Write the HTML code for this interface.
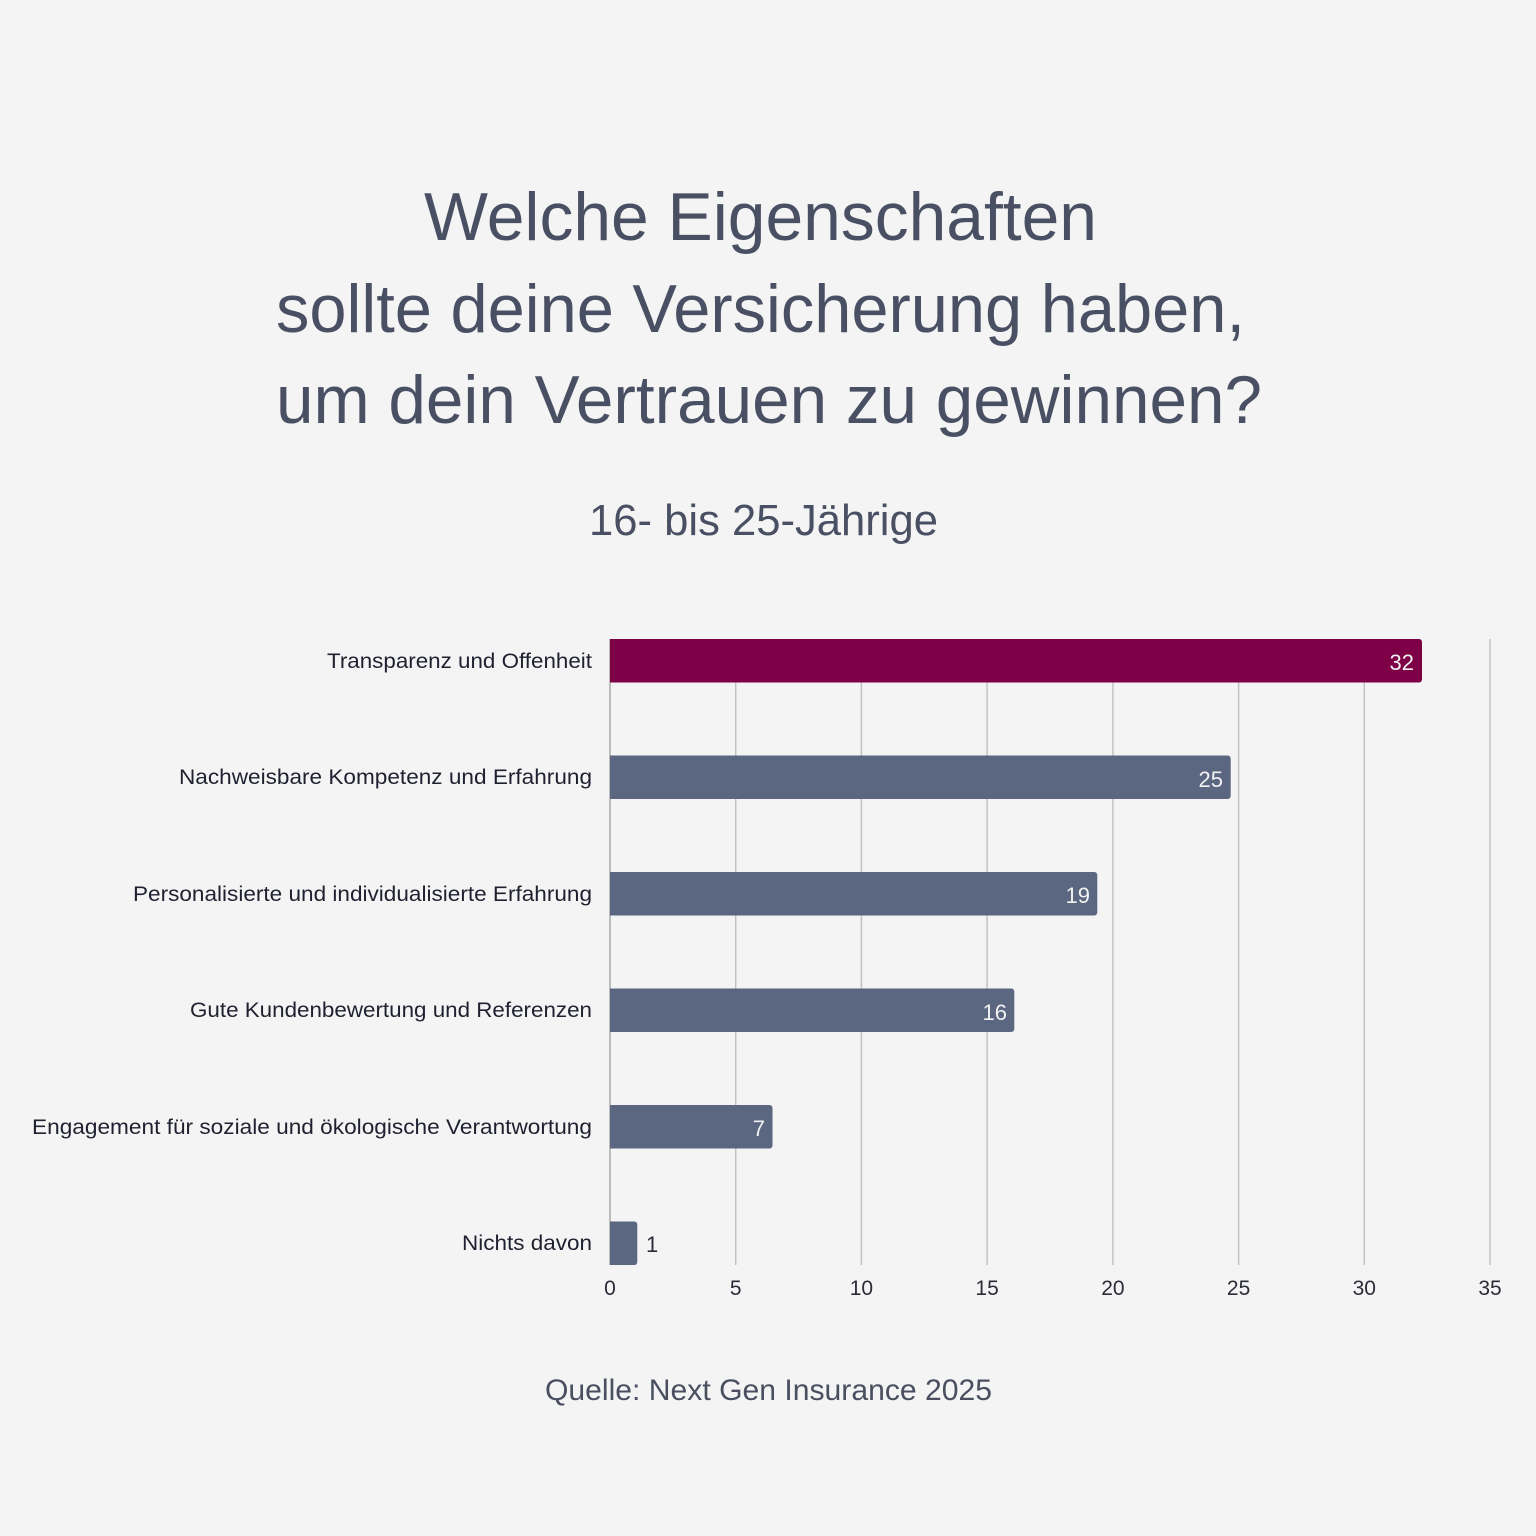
<!DOCTYPE html>
<html>
<head>
<meta charset="utf-8">
<style>
  html, body { margin:0; padding:0; background:#f4f4f4; }
  svg { display:block; }
  text { font-family: "Liberation Sans", "DejaVu Sans", sans-serif; }
</style>
</head>
<body>
<svg width="1536" height="1536" viewBox="0 0 1536 1536" xmlns="http://www.w3.org/2000/svg">
  <rect x="0" y="0" width="1536" height="1536" fill="#f4f4f4"/>

  <!-- Title -->
  <g fill="#4a5063" font-size="68">
    <text x="424" y="240" textLength="673" lengthAdjust="spacingAndGlyphs">Welche Eigenschaften</text>
    <text x="276" y="332" textLength="969" lengthAdjust="spacingAndGlyphs">sollte deine Versicherung haben,</text>
    <text x="276" y="423" textLength="986" lengthAdjust="spacingAndGlyphs">um dein Vertrauen zu gewinnen?</text>
  </g>
  <text x="589" y="535" font-size="44" fill="#4a5063" textLength="349" lengthAdjust="spacingAndGlyphs">16- bis 25-Jährige</text>

  <!-- Gridlines -->
  <g stroke="#c2c2c2" stroke-width="1.5">
    <line x1="735.7" y1="639" x2="735.7" y2="1265"/>
    <line x1="861.4" y1="639" x2="861.4" y2="1265"/>
    <line x1="987.1" y1="639" x2="987.1" y2="1265"/>
    <line x1="1112.9" y1="639" x2="1112.9" y2="1265"/>
    <line x1="1238.6" y1="639" x2="1238.6" y2="1265"/>
    <line x1="1364.3" y1="639" x2="1364.3" y2="1265"/>
    <line x1="1490" y1="639" x2="1490" y2="1265"/>
  </g>
  <line x1="610" y1="639" x2="610" y2="1265" stroke="#a8a8a8" stroke-width="1.5"/>

  <!-- Bars -->
  <path d="M610 639 H1419 A3 3 0 0 1 1422 642 V679.5 A3 3 0 0 1 1419 682.5 H610 Z" fill="#7e0046"/>
  <path d="M610 755.5 H1227.7 A3 3 0 0 1 1230.7 758.5 V796 A3 3 0 0 1 1227.7 799 H610 Z" fill="#5b6680"/>
  <path d="M610 872 H1094.3 A3 3 0 0 1 1097.3 875 V912.5 A3 3 0 0 1 1094.3 915.5 H610 Z" fill="#5b6680"/>
  <path d="M610 988.5 H1011.3 A3 3 0 0 1 1014.3 991.5 V1029 A3 3 0 0 1 1011.3 1032 H610 Z" fill="#5b6680"/>
  <path d="M610 1105 H769.5 A3 3 0 0 1 772.5 1108 V1145.5 A3 3 0 0 1 769.5 1148.5 H610 Z" fill="#5b6680"/>
  <path d="M610 1221.5 H634.3 A3 3 0 0 1 637.3 1224.5 V1262 A3 3 0 0 1 634.3 1265 H610 Z" fill="#5b6680"/>

  <!-- Value labels -->
  <g font-size="22" fill="#f2f2f2" text-anchor="end">
    <text x="1414" y="670">32</text>
    <text x="1223" y="787">25</text>
    <text x="1090" y="903">19</text>
    <text x="1007" y="1020">16</text>
    <text x="765" y="1136">7</text>
  </g>
  <text x="646" y="1252" font-size="22" fill="#2a2c38">1</text>

  <!-- Category labels -->
  <g font-size="21" fill="#1f2130" text-anchor="end">
    <text x="592" y="668" textLength="265" lengthAdjust="spacingAndGlyphs">Transparenz und Offenheit</text>
    <text x="592" y="784" textLength="413" lengthAdjust="spacingAndGlyphs">Nachweisbare Kompetenz und Erfahrung</text>
    <text x="592" y="901" textLength="459" lengthAdjust="spacingAndGlyphs">Personalisierte und individualisierte Erfahrung</text>
    <text x="592" y="1017" textLength="402" lengthAdjust="spacingAndGlyphs">Gute Kundenbewertung und Referenzen</text>
    <text x="592" y="1134" textLength="560" lengthAdjust="spacingAndGlyphs">Engagement für soziale und ökologische Verantwortung</text>
    <text x="592" y="1250" textLength="130" lengthAdjust="spacingAndGlyphs">Nichts davon</text>
  </g>

  <!-- X tick labels -->
  <g font-size="21" fill="#2a2c38" text-anchor="middle">
    <text x="610" y="1295">0</text>
    <text x="735.7" y="1295">5</text>
    <text x="861.4" y="1295">10</text>
    <text x="987.1" y="1295">15</text>
    <text x="1112.9" y="1295">20</text>
    <text x="1238.6" y="1295">25</text>
    <text x="1364.3" y="1295">30</text>
    <text x="1490" y="1295">35</text>
  </g>

  <!-- Source -->
  <text x="545" y="1400" font-size="30" fill="#4a4f60" textLength="447" lengthAdjust="spacingAndGlyphs">Quelle: Next Gen Insurance 2025</text>
</svg>
</body>
</html>
